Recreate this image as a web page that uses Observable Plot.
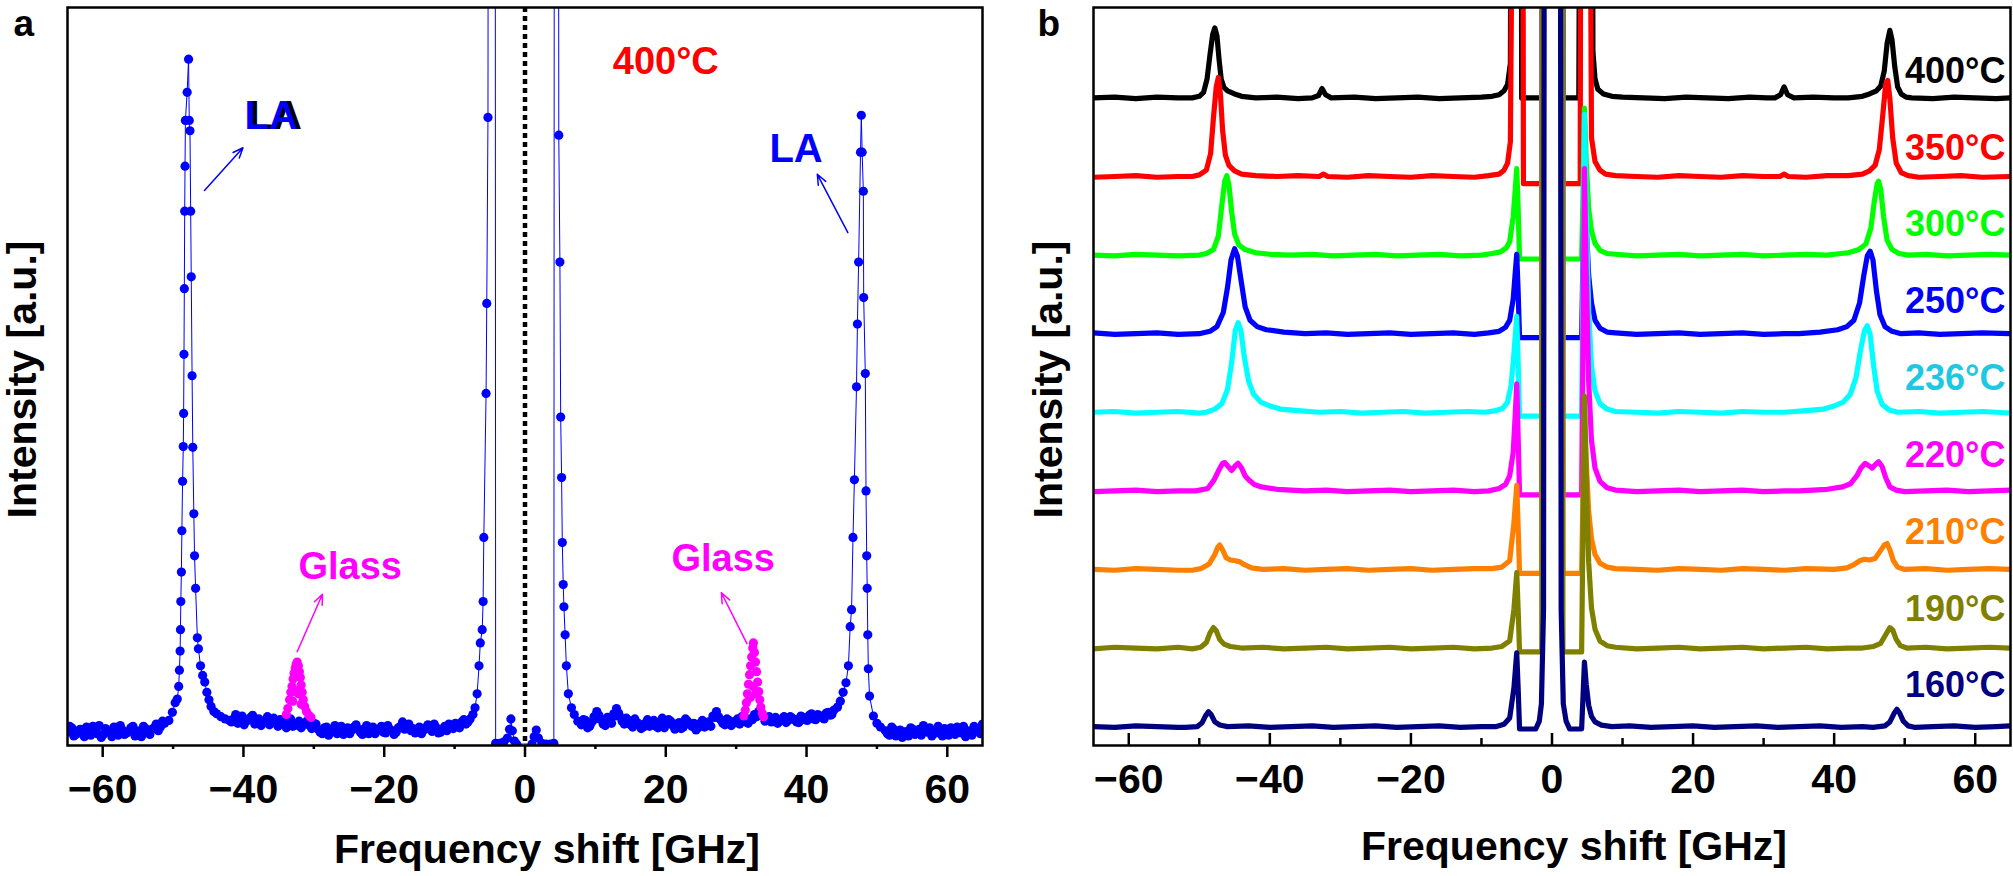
<!DOCTYPE html>
<html>
<head>
<meta charset="utf-8">
<script src="https://cdn.jsdelivr.net/npm/d3@7"></script>
<script src="https://cdn.jsdelivr.net/npm/@observablehq/plot@0.6"></script>
<style>
  html, body { margin: 0; padding: 0; background: #ffffff; }
  #root { position: relative; width: 2013px; height: 876px; overflow: hidden; background: #ffffff; }
  #root svg { position: absolute; top: 0; }
</style>
</head>
<body>
<div id="root"></div>
<script>
// ---------------- DATA ----------------
const majorTicks = [-60, -40, -20, 0, 20, 40, 60];
const minorTicks = [-50, -30, -10, 10, 30, 50];

// Panel a : Brillouin spectrum at 400 °C, [frequency shift GHz, intensity %]
const spectrumA = [
[-65,1.8],[-64.4,2.4],[-63.8,1.5],[-63.2,2.2],[-62.6,1.2],[-62,2.0],[-61.4,2.6],[-60.8,1.6],[-60.2,1.1],[-59.6,2.3],[-59,1.8],[-58.4,2.5],[-57.8,1.4],[-57.2,2.1],[-56.6,1.7],[-56,2.4],[-55.4,1.3],[-54.8,2.0],[-54.2,2.6],[-53.6,1.8],[-53,2.2],[-52.4,2.9],[-51.8,2.5],[-51.2,3.0],
[-50.6,3.4],[-50.1,4.5],[-49.7,5.8],[-49.4,6.3],[-49.2,8.0],[-49.1,10.2],[-49.0,12.8],[-48.95,15.7],[-48.9,19.5],[-48.82,23.5],[-48.75,29.1],[-48.65,35.8],[-48.55,40.5],[-48.5,45.0],[-48.45,53.0],[-48.4,61.9],[-48.35,72.4],[-48.3,78.5],[-48.25,84.7],[-48.0,88.5],[-47.8,93.0],[-47.7,84.7],[-47.6,83.3],[-47.5,72.4],[-47.42,63.5],[-47.3,50.1],[-47.2,40.4],[-47.05,31.4],[-46.95,25.7],[-46.8,21.3],[-46.55,14.6],[-46.4,13.1],[-46.1,10.8],[-45.8,9.5],[-45.5,8.6],[-45.2,7.2],[-44.9,6.2],[-44.6,5.3],[-44.2,4.6],[-43.8,4.3],[-43.2,3.9],[-42.6,3.6],[-42,3.4],
[-41.4,3.6],[-40.8,3.0],[-40.2,4.0],[-39.6,3.3],[-39,3.8],[-38.4,2.9],[-37.8,3.6],[-37.2,3.1],[-36.6,3.9],[-36,3.2],[-35.4,3.0],[-34.8,3.5],[-34.2,2.8],[-33.6,3.3],[-33,2.6],[-32.4,3.0],[-31.8,2.4],[-31.2,3.1],[-30.6,2.7],
[-30,3.0],[-29.4,2.2],[-28.8,1.6],[-28.2,2.5],[-27.6,1.9],[-27,2.7],[-26.4,2.0],[-25.8,1.5],[-25.2,2.4],[-24.6,2.1],[-24,2.8],[-23.4,1.8],[-22.8,2.3],[-22.2,1.6],[-21.6,2.5],[-21,2.0],[-20.4,2.6],[-19.8,1.7],[-19.2,2.2],[-18.6,1.5],[-18,2.4],[-17.4,3.2],[-16.8,2.6],[-16.2,2.0],[-15.6,1.7],[-15,2.5],[-14.4,2.1],[-13.8,2.8],[-13.2,1.9],[-12.6,2.4],[-12,1.8],[-11.4,2.6],[-10.8,2.9],[-10.2,2.3],[-9.6,2.7],[-9,3.2],[-8.4,2.9],
[-7.8,3.6],[-7.4,4.2],[-7.1,5.1],[-6.8,7.0],[-6.53,10.8],[-6.35,13.9],[-6.08,15.7],[-5.95,19.5],[-5.85,28.2],[-5.53,47.7],[-5.43,59.9],[-5.26,85.1],[-5.0,400],[-4.35,400],[-4.17,0.3],
[-3.6,0.3],[-3.0,0.5],[-2.5,1.0],[-2.2,2.2],[-2.0,3.6],[-1.8,2.0],[-1.5,0.6],[-1.2,0.2],[1.0,0.2],[1.3,1.2],[1.6,2.1],[1.9,1.0],[2.4,0.3],[3.0,0.2],[3.6,0.2],[4.1,0.3],
[4.3,400],[4.6,400],[4.8,82.7],[4.96,65.5],[5.07,44.5],[5.2,36.3],[5.3,27.5],[5.43,21.8],[5.53,18.8],[5.7,15.0],[5.88,10.8],[6.16,7.0],[6.6,5.1],[7.0,4.2],[7.5,3.3],
[8.0,2.8],[8.6,3.4],[9.2,2.6],[9.8,3.9],[10.2,4.6],[10.8,3.5],[11.4,2.7],[12.0,3.3],[12.6,4.3],[13.0,5.0],[13.5,3.9],[14.1,2.9],[14.7,3.4],[15.3,2.5],[15.9,3.1],[16.5,2.3],[17.1,3.0],[17.7,2.6],[18.3,3.4],[18.9,2.4],[19.5,3.7],[20.1,2.9],[20.7,3.3],[21.3,2.2],[21.9,3.1],[22.5,2.5],[23.1,3.3],[23.7,2.6],[24.3,2.1],[24.9,3.0],[25.5,2.5],[26.1,3.2],[26.7,4.0],[27.2,4.6],[27.8,3.5],[28.4,2.8],[29.0,3.4],[29.6,3.0],[30.2,3.6],[30.8,3.9],
[31.4,3.2],[32.0,3.6],[32.6,4.2],[33.2,4.6],[33.8,4.0],[34.4,3.6],[35.0,3.2],[35.6,3.8],[36.2,3.3],[36.8,3.9],[37.4,3.4],[38.0,3.7],[38.6,3.2],[39.2,4.0],[39.8,3.5],[40.4,4.1],[41.0,3.6],[41.6,4.2],[42.2,3.8],[42.8,4.4],[43.4,4.1],[43.9,4.8],[44.4,5.2],[44.8,6.0],[45.2,7.2],[45.6,8.5],
[45.95,10.8],[46.2,16.1],[46.4,18.4],[46.6,28.2],[46.8,36.0],[47.1,48.6],[47.23,57.1],[47.4,65.5],[47.67,80.4],[47.78,85.4],[47.9,80.4],[48.07,75.1],[48.12,60.7],[48.35,50.4],[48.45,34.5],[48.55,25.7],[48.62,21.3],[48.7,15.0],[48.78,10.4],[48.95,6.7],[49.5,4.0],[50.0,3.0],[50.5,2.5],
[51.2,2.0],[51.8,1.4],[52.4,2.2],[53.0,1.6],[53.6,1.1],[54.2,1.9],[54.8,2.4],[55.4,1.5],[56.0,2.2],[56.6,2.7],[57.2,1.8],[57.8,1.3],[58.4,2.0],[59.0,1.6],[59.6,2.3],[60.2,1.4],[60.8,1.9],[61.4,2.5],[62.0,1.7],[62.6,1.2],[63.2,2.0],[63.8,2.6],[64.4,2.3],[65,2.9]
];
// interleaved baseline readings of the same spectrum (the dense band of points)
const spectrumAFill = [
[-64.7,2.6],[-64.1,1.3],[-63.5,2.0],[-62.9,1.6],[-62.3,2.5],[-61.7,1.4],[-61.1,2.1],[-60.5,2.7],[-59.9,1.5],[-59.3,2.0],[-58.7,1.2],[-58.1,2.2],[-57.5,2.7],[-56.9,1.5],[-56.3,1.9],[-55.7,2.6],[-55.1,1.7],[-54.5,1.2],[-53.9,2.3],[-53.3,1.5],[-52.7,2.4],[-52.1,2.0],[-51.5,3.3],
[-41.7,3.2],[-41.1,4.2],[-40.5,3.4],[-39.9,2.8],[-39.3,3.5],[-38.7,4.1],[-38.1,3.2],[-37.5,2.7],[-36.9,3.4],[-36.3,2.8],[-35.7,3.7],[-35.1,2.6],[-34.5,3.3],[-33.9,2.4],[-33.3,3.6],[-32.7,2.7],[-32.1,3.3],[-31.5,2.8],[-30.9,3.4],[-30.3,2.3],
[-29.7,2.9],[-29.1,1.8],[-28.5,2.4],[-27.9,1.4],[-27.3,2.2],[-26.7,1.6],[-26.1,2.6],[-25.5,2.0],[-24.9,1.6],[-24.3,2.5],[-23.7,2.2],[-23.1,1.5],[-22.5,2.7],[-21.9,2.0],[-21.3,1.6],[-20.7,2.2],[-20.1,1.8],[-19.5,2.7],[-18.9,2.0],[-18.3,1.8],[-17.7,2.6],[-17.1,2.2],[-16.5,2.9],[-15.9,2.3],[-15.3,2.0],[-14.7,1.6],[-14.1,2.4],[-13.5,2.2],[-12.9,2.9],[-12.3,1.7],[-11.7,2.2],[-11.1,2.0],[-10.5,2.5],[-9.9,3.0],[-9.3,2.4],[-8.7,3.5],[-8.1,3.2],
[8.3,3.5],[8.9,2.4],[9.5,3.2],[10.0,3.6],[10.5,4.1],[11.1,2.9],[11.7,3.8],[12.3,3.0],[12.8,4.0],[13.3,4.4],[13.8,3.3],[14.4,3.7],[15.0,2.8],[15.6,3.6],[16.2,2.9],[16.8,2.5],[17.4,3.5],[18.0,2.9],[18.6,2.6],[19.2,3.2],[19.8,2.4],[20.4,3.5],[21.0,2.7],[21.6,2.9],[22.2,2.3],[22.8,3.6],[23.4,2.9],[24.0,3.0],[24.6,2.4],[25.2,3.4],[25.8,2.8],[26.4,2.6],[27.0,3.8],[27.5,3.9],[28.1,3.0],[28.7,3.6],[29.3,2.7],[29.9,3.3],[30.5,2.9],[31.1,3.5],
[31.7,3.0],[32.3,3.5],[32.9,3.9],[33.5,4.3],[34.1,3.3],[34.7,3.9],[35.3,3.4],[35.9,3.0],[36.5,3.6],[37.1,3.1],[37.7,3.9],[38.3,3.5],[38.9,3.1],[39.5,3.8],[40.1,3.4],[40.7,4.3],[41.3,3.5],[41.9,4.0],[42.5,3.6],[43.1,4.5],[43.6,4.2],
[51.5,1.6],[52.1,2.5],[52.7,1.3],[53.3,2.1],[53.9,1.8],[54.5,1.3],[55.1,2.2],[55.7,2.0],[56.3,1.4],[56.9,2.1],[57.5,2.4],[58.1,1.6],[58.7,2.6],[59.3,1.3],[59.9,2.0],[60.5,2.4],[61.1,1.5],[61.7,2.1],[62.3,2.6],[62.9,1.8],[63.5,1.4],[64.1,2.0],[64.7,1.6]
];
// Glass bands (magenta points)
const glassA = [
[-33.9,4.2],[-33.7,5.0],[-33.45,6.2],[-33.27,7.2],[-33.1,8.0],[-32.95,9.0],[-32.8,9.8],[-32.64,10.5],[-32.5,11.0],[-32.37,11.3],[-32.2,10.8],[-32.05,10.0],[-31.92,9.2],[-31.8,8.2],[-31.65,7.2],[-31.5,6.2],[-31.3,5.3],[-31.05,4.6],[-30.7,4.1],[-30.4,3.8],[-33.0,6.0],[-32.6,7.4],[-32.2,7.0],[-31.8,5.6],
[31.1,4.0],[31.3,4.8],[31.45,5.8],[31.6,7.0],[31.75,8.3],[31.9,9.6],[32.05,10.8],[32.2,12.0],[32.35,13.2],[32.45,13.9],[32.6,12.6],[32.75,11.3],[32.9,10.0],[33.05,8.6],[33.2,7.3],[33.35,6.2],[33.5,5.2],[33.7,4.4],[33.9,3.9],[32.0,6.5],[32.4,8.0],[32.8,7.0]
];

// Panel b : spectra at several temperatures, [frequency shift GHz, intensity a.u. above own baseline]
const temps = [400, 350, 300, 250, 236, 220, 210, 190, 160];
const offsets = [800, 700, 600, 500, 400, 300, 200, 100, 0];
const lineColors = ["#000000", "#ff0000", "#00ff00", "#0000ff", "#00ffff", "#ff00ff", "#ff8000", "#808000", "#000080"];
const labelColors = ["#000000", "#ff0000", "#00ff00", "#0000ff", "#1ec8e0", "#ff00ff", "#ff8000", "#808000", "#000080"];

const s400 = [[-65,1],[-62,2],[-59,0],[-56,2],[-53,1],[-51,1],[-50,3],[-49.4,8],[-48.9,25],[-48.5,55],[-48.1,82],[-47.8,90],[-47.5,80],[-47.2,50],[-46.9,25],[-46.5,14],[-46,10],[-45,6],[-44,3],[-42,1],[-39,2],[-36,0],[-34,1],[-33.1,4],[-32.6,13],[-32.1,5],[-31.3,1],[-28,2],[-25,0],[-22,1],[-19,2],[-16,0],[-13,1],[-10,2],[-8.5,3],[-7.5,5],[-6.8,10],[-6.3,18],[-5.9,45],[-5.5,1200],[-4.5,1200],[-4.3,1],[-2.5,1],[-1.45,1],[-1.3,1500],[1.4,1500],[1.55,1],[3.8,1],[4.3,1200],[5.5,1200],[5.8,60],[6.1,25],[6.5,12],[7.3,6],[8.5,3],[10,2],[13,1],[16,0],[19,2],[22,1],[25,0],[28,2],[30.5,1],[31.6,1],[32.4,5],[32.9,15],[33.4,5],[34.3,1],[37,2],[40,1],[42,1],[44,3],[45,6],[46,10],[46.6,16],[47.1,35],[47.5,70],[47.9,87],[48.2,75],[48.6,40],[49.0,15],[49.5,6],[50.2,2],[51,1],[54,0],[57,2],[60,1],[63,0],[65,1]];
const s350 = [[-65,0],[-62,1],[-59,2],[-56,0],[-53,1],[-51,1],[-50,3],[-49,9],[-48.4,30],[-48.0,75],[-47.6,115],[-47.3,127],[-47.0,105],[-46.7,60],[-46.3,28],[-45.8,15],[-45,8],[-44,4],[-42,2],[-39,1],[-36,2],[-33,1],[-32.4,4],[-31.8,1],[-29,0],[-26,2],[-23,1],[-20,0],[-17,2],[-14,1],[-11,0],[-9,2],[-7.5,4],[-6.8,9],[-6.3,18],[-5.9,45],[-4.95,1200],[-4.25,1200],[-4.05,-8],[-2.5,-8],[-1.45,-8],[-1.3,1500],[1.4,1500],[1.55,-8],[4.0,-8],[4.2,1200],[4.95,1200],[5.6,50],[6.1,20],[6.8,9],[7.6,4],[9,2],[12,1],[15,0],[18,2],[21,1],[24,0],[27,2],[30,1],[32.3,1],[32.9,4],[33.5,1],[36,0],[39,2],[42,2],[44,4],[45,8],[45.8,15],[46.4,35],[46.9,80],[47.3,118],[47.6,123],[47.9,100],[48.3,50],[48.8,18],[49.5,6],[50.5,2],[52,0],[55,1],[58,2],[61,0],[65,1]];
const s300 = [[-65,1],[-62,0],[-59,2],[-56,1],[-53,0],[-50,1],[-49,3],[-48,8],[-47.3,25],[-46.8,65],[-46.4,95],[-46.1,102],[-45.8,90],[-45.4,55],[-45,28],[-44.4,14],[-43.5,8],[-42,4],[-40,2],[-37,1],[-34,2],[-31,0],[-28,1],[-25,2],[-22,0],[-19,1],[-16,2],[-13,0],[-10,1],[-8.5,3],[-7.3,5],[-6.5,10],[-6.0,18],[-5.5,50],[-5.2,85],[-5.0,111],[-4.8,60],[-4.6,-4],[-3,-4],[-1.45,-4],[-1.3,1500],[1.4,1500],[1.55,-4],[3.5,-4],[4.2,-4],[4.4,80],[4.6,188],[4.85,120],[5.2,60],[5.6,32],[6.1,16],[6.8,7],[7.8,3],[9,2],[12,0],[15,1],[18,2],[21,0],[24,1],[27,2],[30,0],[33,1],[36,2],[39,1],[40,2],[42,4],[43.5,8],[44.5,15],[45.2,35],[45.7,70],[46.1,92],[46.3,95],[46.6,85],[47.0,50],[47.5,20],[48.2,8],[49.2,3],[50.5,1],[53,2],[56,0],[59,1],[62,2],[65,1]];
const s250 = [[-65,2],[-62,0],[-59,1],[-56,2],[-53,0],[-50,1],[-48.5,4],[-47.5,10],[-46.6,28],[-46.0,60],[-45.5,95],[-45.0,109],[-44.6,100],[-44.1,70],[-43.5,35],[-42.8,18],[-41.8,10],[-40.5,6],[-38,3],[-35,1],[-32,2],[-29,0],[-26,1],[-23,2],[-20,0],[-17,1],[-14,2],[-11,0],[-9,2],[-7.5,4],[-6.6,9],[-6.0,18],[-5.5,45],[-5.2,80],[-5.0,102],[-4.8,55],[-4.6,-4],[-3,-4],[-1.45,-4],[-1.3,1500],[1.4,1500],[1.55,-4],[4.2,-4],[4.4,100],[4.6,210],[4.85,140],[5.2,75],[5.6,40],[6.1,18],[6.8,8],[7.8,3],[9,2],[12,0],[15,1],[18,2],[21,0],[24,1],[27,2],[30,0],[33,1],[35,1],[38,3],[40.5,6],[41.8,10],[42.8,18],[43.6,40],[44.2,75],[44.7,100],[45.1,106],[45.5,95],[46.0,55],[46.5,25],[47.2,10],[48.2,4],[49.5,1],[52,2],[55,0],[58,1],[61,2],[65,1]];
const s236 = [[-65,1],[-62,2],[-59,0],[-56,1],[-53,2],[-50,0],[-49,1],[-47.8,5],[-46.8,12],[-46.0,30],[-45.4,65],[-44.9,105],[-44.5,115],[-44.1,105],[-43.6,70],[-43.0,40],[-42.3,24],[-41.3,14],[-40,9],[-38.5,5],[-36,3],[-33,1],[-30,2],[-27,0],[-24,1],[-21,2],[-18,0],[-15,1],[-12,2],[-9.5,1],[-8,3],[-7,6],[-6.3,14],[-5.8,35],[-5.4,75],[-5.0,123],[-4.8,65],[-4.6,-4],[-3,-4],[-1.45,-4],[-1.3,1500],[1.4,1500],[1.55,-4],[4.2,-4],[4.4,180],[4.6,380],[4.85,260],[5.2,130],[5.6,60],[6.1,28],[6.8,12],[7.8,5],[9,2],[12,1],[15,0],[18,2],[21,1],[24,0],[27,2],[30,1],[33,1],[36,3],[38.5,5],[40,9],[41.3,14],[42.3,24],[43.1,45],[43.7,78],[44.3,105],[44.7,111],[45.1,100],[45.6,60],[46.1,28],[46.8,11],[47.8,4],[49,1],[52,2],[55,0],[58,1],[61,2],[65,0]];
const s220 = [[-65,0],[-62,1],[-59,2],[-56,0],[-53,1],[-50.5,1],[-48.8,4],[-47.9,15],[-47.2,28],[-46.7,36],[-46.4,37],[-46.0,33],[-45.4,27],[-44.9,33],[-44.5,36],[-44.0,30],[-43.5,20],[-43.0,15],[-42.2,9],[-41.2,6],[-39,3],[-35,1],[-32,2],[-29,0],[-26,1],[-23,2],[-20,0],[-17,1],[-14,2],[-11,0],[-9,1],[-7.5,4],[-6.6,9],[-6.0,20],[-5.5,50],[-5.2,100],[-5.0,137],[-4.8,70],[-4.6,-4],[-3,-4],[-1.45,-4],[-1.3,1500],[1.4,1500],[1.55,-4],[4.2,-4],[4.4,200],[4.6,411],[4.85,280],[5.2,140],[5.6,65],[6.1,30],[6.8,13],[7.8,5],[9,2],[12,0],[15,1],[18,2],[21,0],[24,1],[27,2],[30,0],[33,1],[35,1],[39,3],[41.2,6],[42.3,10],[43.2,20],[43.8,30],[44.4,36],[44.9,33],[45.4,30],[45.9,35],[46.3,38],[46.8,32],[47.3,18],[47.9,6],[48.8,2],[50,0],[53,1],[56,2],[59,0],[62,1],[65,2]];
const s210 = [[-65,1],[-62,0],[-59,2],[-56,1],[-53,0],[-51,0],[-49.8,2],[-48.6,8],[-47.8,20],[-47.4,29],[-47.1,32],[-46.7,26],[-46.2,16],[-45.6,13],[-44.9,12],[-44.3,11],[-43.6,7],[-42.6,3],[-41,1],[-38,2],[-35,0],[-32,1],[-29,2],[-26,0],[-23,1],[-20,2],[-17,0],[-14,1],[-11,2],[-8.5,2],[-7.1,4],[-6.0,12],[-5.4,60],[-5.0,108],[-4.8,55],[-4.6,-4],[-3,-4],[-1.45,-4],[-1.3,1500],[1.4,1500],[1.55,-4],[4.2,-4],[4.4,100],[4.6,200],[4.85,140],[5.2,75],[5.6,40],[6.1,20],[6.8,9],[7.8,4],[9,2],[12,1],[15,0],[18,2],[21,1],[24,0],[27,2],[30,1],[33,0],[36,2],[40,1],[41.8,3],[42.8,7],[43.6,12],[44.3,14],[45.0,13],[45.8,15],[46.5,24],[47.1,32],[47.5,34],[47.9,26],[48.4,12],[49.0,4],[50,1],[53,2],[56,0],[59,1],[62,2],[65,1]];
const s190 = [[-65,0],[-62,2],[-59,1],[-56,0],[-53,2],[-51,0],[-49.8,2],[-49.0,8],[-48.5,20],[-48.0,27],[-47.6,23],[-47.1,12],[-46.5,6],[-45.6,3],[-44,1],[-41,2],[-38,0],[-35,1],[-32,2],[-29,0],[-26,1],[-23,2],[-20,0],[-17,1],[-14,2],[-11,0],[-8.5,1],[-7.1,3],[-6.0,10],[-5.4,50],[-5.0,97],[-4.8,50],[-4.6,-4],[-3,-4],[-1.45,-4],[-1.3,1500],[1.4,1500],[1.55,-4],[4.2,-4],[4.4,160],[4.6,322],[4.85,220],[5.2,110],[5.6,52],[6.1,25],[6.8,10],[7.8,4],[9,2],[12,0],[15,1],[18,2],[21,0],[24,1],[27,2],[30,0],[33,1],[36,2],[39,0],[42,1],[44,1],[45.6,3],[46.6,7],[47.3,18],[47.9,27],[48.3,24],[48.8,12],[49.4,4],[50.3,1],[53,2],[56,0],[59,1],[62,2],[65,1]];
const s160 = [[-65,1],[-62,0],[-59,2],[-56,1],[-53,0],[-52,0],[-50.3,1],[-49.6,6],[-49.1,15],[-48.7,20],[-48.3,16],[-47.8,7],[-47.1,3],[-46,1],[-43,2],[-40,0],[-37,1],[-34,2],[-31,0],[-28,1],[-25,2],[-22,0],[-19,1],[-16,2],[-13,0],[-10,1],[-8,1],[-6.8,4],[-6.0,12],[-5.4,50],[-5.0,95],[-4.8,50],[-4.6,-2],[-3,-2],[-2.3,-2],[-1.8,8],[-1.5,30],[-1.2,150],[-1.0,2000],[1.1,2000],[1.3,150],[1.6,30],[2.0,8],[2.5,-2],[4.2,-2],[4.4,40],[4.6,83],[4.85,55],[5.2,28],[5.6,14],[6.1,7],[7,3],[8.5,1],[11,2],[14,0],[17,1],[20,2],[23,0],[26,1],[29,2],[32,0],[35,1],[38,2],[41,0],[44,1],[45.5,0],[47.2,2],[47.9,7],[48.5,18],[48.9,23],[49.3,18],[49.8,8],[50.5,2],[51.5,0],[54,1],[57,2],[60,0],[63,1],[65,2]];
const seriesB = [s400, s350, s300, s250, s236, s220, s210, s190, s160];

// ---------------- DRAWING ----------------
const fontFamily = "'Liberation Sans', Arial, Helvetica, sans-serif";
const blue = "#0000ff", magenta = "#ff00ff";
const X = d => d[0], Y = d => d[1];
const txt = d => d;
const pointsA = [...spectrumA, ...spectrumAFill].sort((a, b) => a[0] - b[0]);

const plotA = Plot.plot({
  width: 1000, height: 876,
  marginLeft: 67, marginRight: 18, marginTop: 7, marginBottom: 131,
  style: {fontFamily, background: "transparent", overflow: "visible"},
  x: {domain: [-65, 65], label: null},
  y: {domain: [0, 100], axis: null, label: null},
  marks: [
    Plot.line(pointsA, {x: X, y: Y, stroke: blue, strokeWidth: 1, clip: true}),
    Plot.dot(pointsA, {x: X, y: Y, r: 4.6, fill: blue, stroke: null, clip: true}),
    Plot.dot(glassA, {x: X, y: Y, r: 4.6, fill: magenta, stroke: null, clip: true}),
    Plot.ruleX([0], {stroke: "black", strokeWidth: 4.5, strokeDasharray: "5,4"}),
    Plot.frame({stroke: "black", strokeWidth: 2.5}),
    Plot.axisX(majorTicks, {tickSize: 12, tickPadding: 16, strokeWidth: 2.5, fontSize: 41, fontWeight: "bold", label: null}),
    Plot.axisX(minorTicks, {tickSize: 4, strokeWidth: 2.5, tickFormat: () => "", label: null}),
    // annotations
    Plot.text(["400°C"], {text: txt, x: 20, y: 91, textAnchor: "middle", lineAnchor: "bottom", fontSize: 38, fontWeight: "bold", fill: "#ff0000"}),
    Plot.text(["LA"], {text: txt, x: -39.86, y: 83.5, dx: 4, textAnchor: "start", lineAnchor: "bottom", fontSize: 40, fontWeight: "bold", fill: "#000000"}),
    Plot.text(["LA"], {text: txt, x: -39.86, y: 83.5, textAnchor: "start", lineAnchor: "bottom", fontSize: 40, fontWeight: "bold", fill: blue}),
    Plot.text(["LA"], {text: txt, x: 34.72, y: 79.0, textAnchor: "start", lineAnchor: "bottom", fontSize: 40, fontWeight: "bold", fill: blue}),
    Plot.text(["Glass"], {text: txt, x: -32.19, y: 22.5, textAnchor: "start", lineAnchor: "bottom", fontSize: 38, fontWeight: "bold", fill: magenta}),
    Plot.text(["Glass"], {text: txt, x: 20.8, y: 23.7, textAnchor: "start", lineAnchor: "bottom", fontSize: 38, fontWeight: "bold", fill: magenta}),
    Plot.arrow([{x1: -45.54, y1: 75.2, x2: -40.07, y2: 81.0}], {x1: "x1", y1: "y1", x2: "x2", y2: "y2", stroke: blue, strokeWidth: 1.5, headLength: 11, headAngle: 45}),
    Plot.arrow([{x1: 45.87, y1: 69.5, x2: 41.53, y2: 77.4}], {x1: "x1", y1: "y1", x2: "x2", y2: "y2", stroke: blue, strokeWidth: 1.5, headLength: 11, headAngle: 45}),
    Plot.arrow([{x1: -32.37, y1: 12.7, x2: -28.78, y2: 20.5}], {x1: "x1", y1: "y1", x2: "x2", y2: "y2", stroke: magenta, strokeWidth: 1.5, headLength: 11, headAngle: 45}),
    Plot.arrow([{x1: 31.53, y1: 13.8, x2: 27.9, y2: 20.7}], {x1: "x1", y1: "y1", x2: "x2", y2: "y2", stroke: magenta, strokeWidth: 1.5, headLength: 11, headAngle: 45}),
    // titles
    Plot.text(["Frequency shift [GHz]"], {text: txt, frameAnchor: "bottom", dx: 22, dy: 117, textAnchor: "middle", lineAnchor: "bottom", fontSize: 41, fontWeight: "bold"}),
    Plot.text(["Intensity [a.u.]"], {text: txt, frameAnchor: "left", rotate: -90, dx: -45, dy: 3, textAnchor: "middle", lineAnchor: "middle", fontSize: 41, fontWeight: "bold"}),
    Plot.text(["a"], {text: txt, frameAnchor: "top-left", dx: -54, dy: 28, textAnchor: "start", lineAnchor: "bottom", fontSize: 37, fontWeight: "bold"})
  ]
});
plotA.style.left = "0px";

const plotB = Plot.plot({
  width: 1013, height: 876,
  marginLeft: 93, marginRight: 3, marginTop: 7, marginBottom: 131,
  style: {fontFamily, background: "transparent", overflow: "visible"},
  x: {domain: [-65, 65], label: null},
  y: {domain: [-23, 916], axis: null, label: null},
  marks: [
    ...seriesB.map((s, i) => Plot.line(s, {x: X, y: d => d[1] + offsets[i], stroke: lineColors[i], strokeWidth: 5.2, strokeLinejoin: "round", clip: true})),
    Plot.frame({stroke: "black", strokeWidth: 2.5}),
    Plot.tickX(majorTicks, {x: d => d, insetTop: 726, stroke: "black", strokeWidth: 2.5}),
    Plot.tickX(minorTicks, {x: d => d, insetTop: 731, stroke: "black", strokeWidth: 2.5}),
    Plot.axisX(majorTicks, {tickSize: 0, tickPadding: 18, fontSize: 41, fontWeight: "bold", label: null}),
    ...temps.map((t, i) => Plot.text([`${t}°C`], {text: txt, frameAnchor: "right", y: [offsets[i]], dx: -5, dy: -16 - i * 1.75, textAnchor: "end", lineAnchor: "bottom", fontSize: 36, fontWeight: "bold", fill: labelColors[i]})),
    Plot.text(["Frequency shift [GHz]"], {text: txt, frameAnchor: "bottom", dx: 22, dy: 114, textAnchor: "middle", lineAnchor: "bottom", fontSize: 41, fontWeight: "bold"}),
    Plot.text(["Intensity [a.u.]"], {text: txt, frameAnchor: "left", rotate: -90, dx: -44.5, dy: 3, textAnchor: "middle", lineAnchor: "middle", fontSize: 41, fontWeight: "bold"}),
    Plot.text(["b"], {text: txt, frameAnchor: "top-left", dx: -56, dy: 28, textAnchor: "start", lineAnchor: "bottom", fontSize: 37, fontWeight: "bold"})
  ]
});
plotB.style.left = "1000px";

const root = document.getElementById("root");
root.appendChild(plotA);
root.appendChild(plotB);
</script>
</body>
</html>
